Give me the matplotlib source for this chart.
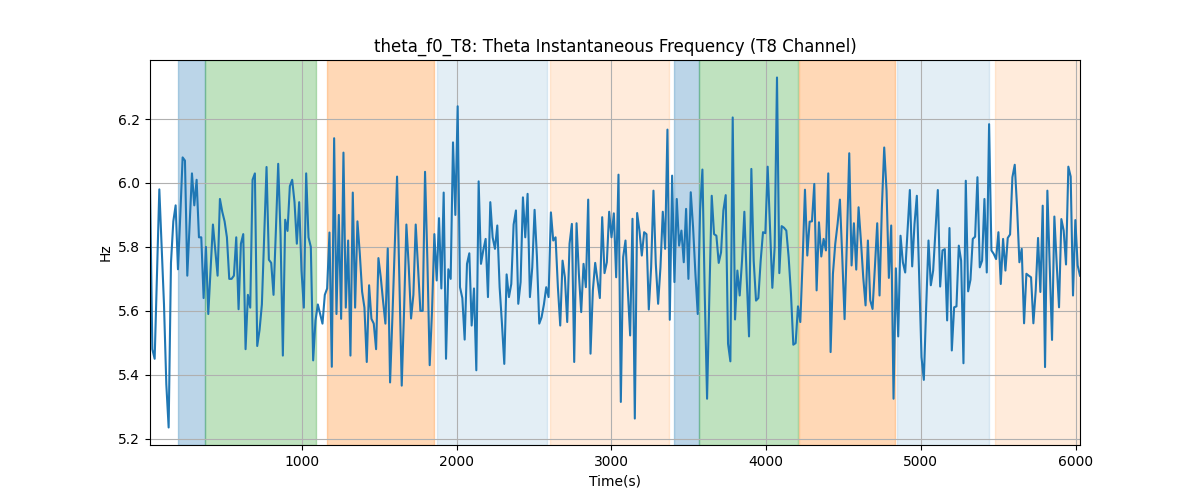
import numpy as np
import matplotlib
matplotlib.use("Agg")
import matplotlib.pyplot as plt

theta_f0 = [
    5.99, 5.48, 5.45, 5.72, 5.98, 5.80, 5.62, 5.37, 5.235, 5.75,
    5.88, 5.93, 5.73, 5.90, 6.08, 6.07, 5.71, 5.87, 6.03, 5.93,
    6.01, 5.83, 5.83, 5.64, 5.80, 5.59, 5.73, 5.87, 5.79, 5.71,
    5.95, 5.91, 5.88, 5.83, 5.70, 5.70, 5.71, 5.83, 5.605, 5.81,
    5.84, 5.48, 5.65, 5.61, 6.01, 6.03, 5.49, 5.54, 5.62, 5.83,
    6.05, 5.76, 5.75, 5.65, 5.85, 6.06, 5.84, 5.46, 5.885, 5.85,
    5.99, 6.01, 5.94, 5.81, 5.94, 5.725, 5.61, 6.03, 5.83, 5.80,
    5.445, 5.57, 5.62, 5.59, 5.56, 5.65, 5.67, 5.845, 5.425, 6.14,
    5.59, 5.90, 5.575, 6.095, 5.61, 5.82, 5.46, 5.97, 5.61, 5.88,
    5.78, 5.66, 5.61, 5.44, 5.68, 5.575, 5.56, 5.48, 5.765, 5.705,
    5.63, 5.56, 5.795, 5.376, 5.58, 5.80, 6.02, 5.70, 5.366, 5.60,
    5.87, 5.74, 5.576, 5.65, 5.87, 5.735, 5.60, 5.60, 6.035, 5.76,
    5.43, 5.60, 5.84, 5.695, 5.89, 5.67, 5.97, 5.45, 5.73, 5.70,
    6.127, 5.90, 6.24, 5.674, 5.64, 5.51, 5.747, 5.78, 5.554, 5.67,
    5.414, 6.005, 5.747, 5.79, 5.825, 5.643, 5.94, 5.83, 5.794, 5.867,
    5.674, 5.56, 5.434, 5.714, 5.643, 5.684, 5.87, 5.914, 5.622, 5.69,
    5.955, 5.83, 5.966, 5.643, 5.736, 5.916, 5.77, 5.56, 5.58, 5.62,
    5.674, 5.643, 5.908, 5.82, 5.83, 5.674, 5.554, 5.757, 5.705, 5.565,
    5.81, 5.872, 5.44, 5.874, 5.716, 5.596, 5.747, 5.674, 5.948, 5.466,
    5.664, 5.75, 5.695, 5.64, 5.893, 5.718, 5.752, 5.91, 5.83, 5.905,
    5.705, 6.026, 5.315, 5.768, 5.82, 5.664, 5.523, 5.888, 5.263, 5.906,
    5.85, 5.773, 5.846, 5.84, 5.604, 5.736, 5.976, 5.747, 5.622, 5.736,
    5.91, 5.794, 6.167, 5.572, 6.023, 5.69, 5.95, 5.804, 5.851, 5.752,
    5.919, 5.70, 5.971, 5.861, 5.716, 5.59, 5.914, 6.042, 5.653, 5.325,
    5.653, 5.96, 5.84, 5.835, 5.75, 5.783, 5.914, 5.962, 5.497, 5.442,
    6.205, 5.573, 5.726, 5.648, 5.757, 5.91, 5.705, 5.52, 6.044, 5.757,
    5.632, 5.64, 5.757, 5.846, 5.843, 6.051, 5.861, 5.672, 5.80, 6.33,
    5.718, 5.865, 5.86, 5.851, 5.768, 5.653, 5.494, 5.499, 5.614, 5.565,
    5.757, 5.979, 5.773, 5.879, 5.88, 5.997, 5.664, 5.877, 5.77, 5.825,
    5.789, 6.03, 5.471, 5.716, 5.81, 5.872, 5.948, 5.768, 5.574, 5.82,
    6.093, 5.742, 5.874, 5.729, 5.924, 5.82, 5.705, 5.617, 5.82, 5.633,
    5.606, 5.736, 5.874, 5.648, 5.924, 6.111, 5.976, 5.703, 5.867, 5.325,
    5.733, 5.52, 5.835, 5.752, 5.72, 5.85, 5.978, 5.739, 5.872, 5.96,
    5.705, 5.455, 5.384, 5.611, 5.82, 5.68, 5.726, 5.851, 5.978, 5.676,
    5.789, 5.793, 5.57, 5.859, 5.476, 5.611, 5.614, 5.804, 5.757, 5.436,
    6.007, 5.661, 5.697, 5.825, 5.832, 6.018, 5.736, 5.757, 5.95, 5.72,
    6.184, 5.789, 5.778, 5.762, 5.846, 5.684, 5.825, 5.726, 5.828, 5.839,
    6.018, 6.057, 5.924, 5.752, 5.794, 5.561, 5.716, 5.71, 5.705, 5.561,
    5.664, 5.828, 5.659, 5.929, 5.424, 5.976, 5.747, 5.509, 5.895, 5.747,
    5.611, 5.887, 5.851, 5.745, 6.051, 6.02, 5.648, 5.884, 5.742, 5.71,
]
t_start, t_end = 19, 6028
time = np.linspace(t_start, t_end, len(theta_f0))

span_starts = [197, 372, 1161, 1873, 2604, 3406, 3567, 4214, 4845, 5479]
span_ends = [372, 1092, 1856, 2584, 3370, 3567, 4207, 4832, 5440, 6100]
span_colors = ["tab:blue", "tab:green", "tab:orange", "tab:blue", "tab:orange",
               "tab:blue", "tab:green", "tab:orange", "tab:blue", "tab:orange"]
span_alphas = [0.3, 0.3, 0.3, 0.12, 0.15, 0.3, 0.3, 0.3, 0.12, 0.15]

fig, ax = plt.subplots(figsize=(12, 5), dpi=100)
for s, e, c, a in zip(span_starts, span_ends, span_colors, span_alphas):
    ax.axvspan(s, e, color=c, alpha=a)
ax.plot(time, theta_f0, color="tab:blue", linewidth=1.5)
ax.set_xlim(time[0], time[-1])
ax.set_title("theta_f0_T8: Theta Instantaneous Frequency (T8 Channel)")
ax.set_xlabel("Time(s)")
ax.set_ylabel("Hz")
ax.grid(True)
fig.savefig("out.png", dpi=100)
